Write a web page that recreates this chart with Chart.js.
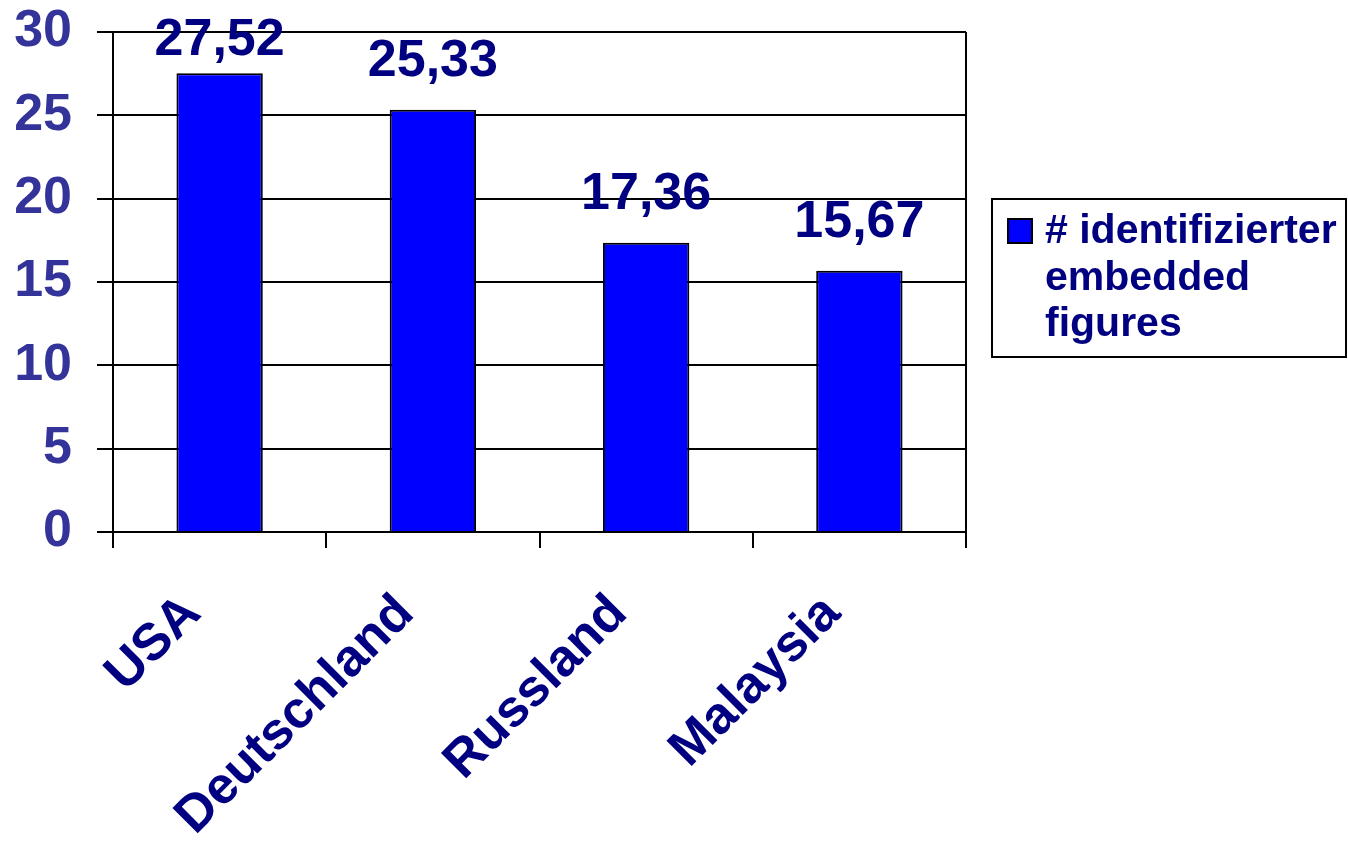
<!DOCTYPE html>
<html>
<head>
<meta charset="utf-8">
<style>
  html, body { margin: 0; padding: 0; background: #ffffff; }
  #chart { display: block; }
</style>
<script src="https://cdn.jsdelivr.net/npm/chart.js@4/dist/chart.umd.min.js"></script>
</head>
<body>
<canvas id="chart" width="1348" height="850"></canvas>
<script>
// Countries and the mean number of embedded figures identified
const categories = ['USA', 'Deutschland', 'Russland', 'Malaysia'];
const seriesName = '# identifizierter embedded figures';
const values = [27.52, 25.33, 17.36, 15.67];
const yTicks = [0, 5, 10, 15, 20, 25, 30];

const FONT = "'Liberation Sans', Arial, Helvetica, sans-serif";
const NAVY = '#000080';
const AXIS_BLUE = '#333399';

function formatDe(v) {
  return v.toFixed(2).replace('.', ',');
}

// Value labels above each bar
const valueLabels = {
  id: 'valueLabels',
  afterDatasetsDraw(chart) {
    const ctx = chart.ctx;
    const meta = chart.getDatasetMeta(0);
    ctx.save();
    ctx.font = 'bold 52px ' + FONT;
    ctx.fillStyle = NAVY;
    ctx.textAlign = 'center';
    ctx.textBaseline = 'alphabetic';
    meta.data.forEach((bar, i) => {
      const v = chart.data.datasets[0].data[i];
      const baseline = Math.max(bar.y - 34, 55);
      ctx.fillText(formatDe(v), bar.x, baseline);
    });
    ctx.restore();
  }
};

// Boxed legend with wrapped series name, to the right of the plot
const boxLegend = {
  id: 'boxLegend',
  afterDraw(chart) {
    const ctx = chart.ctx;
    const ds = chart.data.datasets[0];
    const area = chart.chartArea;
    const left = area.right + 26, top = 199, right = 1346, bottom = 357;
    ctx.save();
    ctx.lineWidth = 2;
    ctx.strokeStyle = '#000000';
    ctx.fillStyle = '#ffffff';
    ctx.fillRect(left, top, right - left, bottom - top);
    ctx.strokeRect(left, top, right - left, bottom - top);

    ctx.font = 'bold 41px ' + FONT;
    const maxW = right - left - 60;
    const words = ds.label.split(' ');
    const lines = [];
    let cur = '';
    words.forEach(w => {
      const t = cur ? cur + ' ' + w : w;
      if (cur && ctx.measureText(t).width > maxW) { lines.push(cur); cur = w; }
      else cur = t;
    });
    if (cur) lines.push(cur);

    // marker
    ctx.fillStyle = ds.backgroundColor;
    ctx.fillRect(left + 16, 219, 24, 24);
    ctx.lineWidth = 2;
    ctx.strokeRect(left + 16, 219, 24, 24);

    ctx.fillStyle = NAVY;
    ctx.textAlign = 'left';
    ctx.textBaseline = 'alphabetic';
    lines.forEach((ln, i) => {
      ctx.fillText(ln, left + 53, 243 + i * 46.5);
    });
    ctx.restore();
  }
};

new Chart(document.getElementById('chart'), {
  type: 'bar',
  data: {
    labels: categories,
    datasets: [{
      label: seriesName,
      data: values,
      backgroundColor: '#0000ff',
      borderColor: '#000000',
      borderWidth: 2,
      categoryPercentage: 1.0,
      barPercentage: 0.405
    }]
  },
  options: {
    responsive: false,
    devicePixelRatio: 1,
    animation: false,
    layout: { padding: { top: 32, right: 382, left: 0, bottom: 0 } },
    plugins: {
      legend: { display: false },
      tooltip: { enabled: false }
    },
    scales: {
      y: {
        min: 0,
        max: 30,
        afterBuildTicks(scale) { scale.ticks = yTicks.map(v => ({ value: v })); },
        afterFit(scale) {
          scale.width = 113;
          scale.paddingTop = 0;
          scale.paddingBottom = 0;
        },
        ticks: {
          color: AXIS_BLUE,
          font: { family: FONT, size: 52, weight: 'bold' },
          padding: 25
        },
        grid: { color: '#000000', lineWidth: 2, tickLength: 16 },
        border: { color: '#000000', width: 2 }
      },
      x: {
        afterFit(scale) { scale.height = 318; },
        ticks: {
          color: NAVY,
          font: { family: FONT, size: 52, weight: 'bold' },
          maxRotation: 45,
          minRotation: 45,
          padding: 35,
          labelOffset: -27
        },
        grid: {
          offset: true,
          lineWidth: 2,
          tickLength: 16,
          tickColor: '#000000',
          color: (c) => (c.type === 'tick' && c.index > 0) ? 'rgba(0,0,0,0)' : '#000000'
        },
        border: { color: '#000000', width: 2 }
      }
    }
  },
  plugins: [valueLabels, boxLegend]
});
</script>
</body>
</html>
